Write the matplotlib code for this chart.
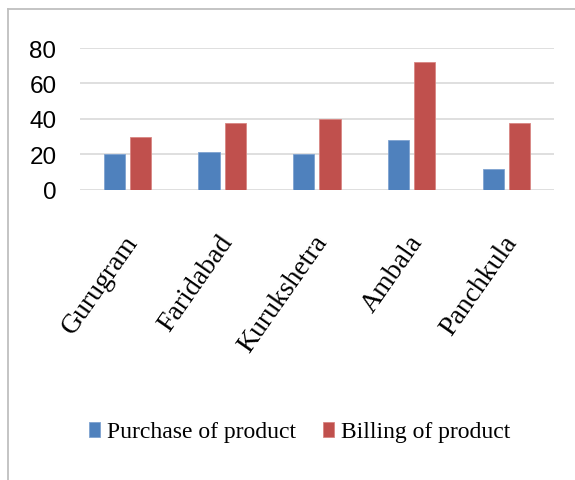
import matplotlib
matplotlib.use("Agg")
import matplotlib.pyplot as plt
import matplotlib.transforms as mtransforms
import numpy as np
from matplotlib.lines import Line2D

cities = ["Gurugram", "Faridabad", "Kurukshetra", "Ambala", "Panchkula"]
purchase = [20, 21.5, 20, 28, 11.5]
billing = [30, 37.5, 40, 72, 37.5]
series_names = ["Purchase of product", "Billing of product"]
y_ticks = [0, 20, 40, 60, 80]

blue = "#4f81bd"
red = "#c0504d"

W, H = 575, 481
fig = plt.figure(figsize=(W / 100, H / 100), dpi=100)
ax = fig.add_axes([80 / W, 1 - 190.7 / H, (553.7 - 80) / W, (190.7 - 49) / H])

x = np.arange(len(cities))
bw = 0.225
off = 0.138
ax.bar(x - off, purchase, width=bw, color=blue, edgecolor="#7fa3d1", linewidth=0.6, zorder=3,
       label=series_names[0])
ax.bar(x + off, billing, width=bw, color=red, edgecolor="#d98683", linewidth=0.6, zorder=3,
       label=series_names[1])

ax.set_xlim(-0.5, len(cities) - 0.5)
ax.set_ylim(0, 80)
ax.set_yticks(y_ticks)
ax.yaxis.grid(True, color="#d9d9d9", linewidth=1.2, zorder=0)
ax.set_axisbelow(True)
for s in ax.spines.values():
    s.set_visible(False)

ax.set_yticklabels([str(v) for v in y_ticks],
                   fontfamily=["Liberation Sans Narrow", "Liberation Sans"], fontsize=17.5)
ax.tick_params(axis="y", length=0, pad=17, labelcolor="#000000")

ax.set_xticks(x)
ax.set_xticklabels(cities, fontfamily="Liberation Serif", fontsize=20, rotation=55,
                   ha="right", va="top", rotation_mode="anchor")
ax.tick_params(axis="x", length=0, pad=29)
shift = mtransforms.ScaledTranslation(-3 / 72, 0, fig.dpi_scale_trans)
for lbl in ax.get_xticklabels():
    lbl.set_transform(lbl.get_transform() + shift)

fig.legend(loc="center", bbox_to_anchor=(300 / W, 1 - 433 / H), ncol=2, frameon=False,
           prop={"family": "Liberation Serif", "size": 17},
           handlelength=0.46, handleheight=0.6, handletextpad=0.3, columnspacing=1.15)

# outer chart frame (left and top edges)
fig.add_artist(Line2D([7.5 / W, 7.5 / W], [0, 1 - 9.5 / H], transform=fig.transFigure,
                      color="#bfbfbf", linewidth=1.3))
fig.add_artist(Line2D([7.5 / W, 1], [1 - 9.5 / H, 1 - 9.5 / H], transform=fig.transFigure,
                      color="#bfbfbf", linewidth=1.3))

fig.savefig("out.png", dpi=100)
